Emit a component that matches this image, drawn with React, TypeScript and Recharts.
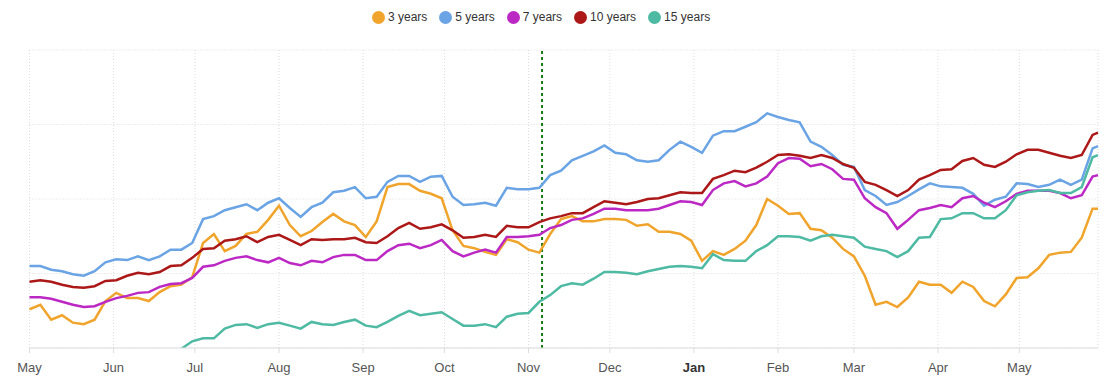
import React from 'react';
import { LineChart, Line, XAxis, YAxis, CartesianGrid, ReferenceLine } from 'recharts';

// sampling grid: days since 1 May, a point every 4 days, last point at the chart's end
const DAYS = Array.from({ length: 99 }, (_, i) => i * 4).concat(394);

const MONTH_DAYS = [0, 31, 61, 92, 123, 153, 184, 214, 245, 276, 304, 335, 365];
const MONTH_LABELS = ['May', 'Jun', 'Jul', 'Aug', 'Sep', 'Oct', 'Nov', 'Dec', 'Jan', 'Feb', 'Mar', 'Apr', 'May'];
const MARKER_DAY = 189;

const SERIES_NAMES = ['3 years', '5 years', '7 years', '10 years', '15 years'];
const SERIES_COLORS = ['#F0A42C', '#6AA4E4', '#BC28C4', '#AC1818', '#4FBAA3'];

const Y3 = [
  0.52, 0.58, 0.38, 0.44, 0.34, 0.32, 0.38, 0.63, 0.74, 0.67,
  0.67, 0.63, 0.75, 0.83, 0.85, 0.95, 1.41, 1.53, 1.30, 1.37,
  1.53, 1.56, 1.72, 1.91, 1.65, 1.50, 1.57, 1.69, 1.80, 1.70,
  1.65, 1.49, 1.70, 2.16, 2.20, 2.20, 2.11, 2.07, 2.01, 1.58,
  1.37, 1.34, 1.29, 1.25, 1.46, 1.42, 1.32, 1.28, 1.53, 1.73,
  1.77, 1.70, 1.70, 1.73, 1.73, 1.72, 1.64, 1.66, 1.56, 1.56,
  1.53, 1.44, 1.17, 1.30, 1.25, 1.33, 1.44, 1.65, 2.00, 1.91,
  1.80, 1.81, 1.60, 1.58, 1.48, 1.33, 1.23, 0.97, 0.58, 0.62,
  0.55, 0.68, 0.89, 0.85, 0.85, 0.74, 0.89, 0.82, 0.63, 0.56,
  0.72, 0.94, 0.95, 1.07, 1.25, 1.28, 1.29, 1.48, 1.87, 1.87,
];
const Y5 = [
  1.10, 1.10, 1.05, 1.03, 0.99, 0.97, 1.03, 1.15, 1.19, 1.18,
  1.23, 1.18, 1.23, 1.32, 1.32, 1.41, 1.73, 1.77, 1.85, 1.89,
  1.93, 1.85, 1.95, 2.01, 1.88, 1.76, 1.89, 1.95, 2.09, 2.11,
  2.16, 2.01, 2.03, 2.23, 2.31, 2.31, 2.23, 2.30, 2.31, 2.03,
  1.92, 1.93, 1.95, 1.91, 2.15, 2.13, 2.13, 2.15, 2.32, 2.38,
  2.52, 2.58, 2.64, 2.72, 2.62, 2.60, 2.52, 2.50, 2.52, 2.66,
  2.77, 2.70, 2.62, 2.85, 2.91, 2.91, 2.97, 3.03, 3.15, 3.10,
  3.06, 3.03, 2.77, 2.70, 2.59, 2.46, 2.43, 2.12, 2.04, 1.92,
  1.96, 2.04, 2.13, 2.21, 2.17, 2.16, 2.15, 2.07, 1.91, 1.99,
  2.03, 2.21, 2.20, 2.16, 2.19, 2.26, 2.19, 2.26, 2.68, 2.71,
];
const Y7 = [
  0.68, 0.68, 0.66, 0.62, 0.58, 0.55, 0.56, 0.62, 0.67, 0.70,
  0.74, 0.75, 0.82, 0.86, 0.87, 0.94, 1.09, 1.11, 1.17, 1.21,
  1.23, 1.18, 1.15, 1.21, 1.14, 1.11, 1.17, 1.15, 1.22, 1.25,
  1.25, 1.18, 1.18, 1.30, 1.38, 1.40, 1.34, 1.38, 1.45, 1.30,
  1.23, 1.28, 1.32, 1.28, 1.49, 1.49, 1.50, 1.52, 1.61, 1.65,
  1.72, 1.74, 1.80, 1.87, 1.87, 1.85, 1.85, 1.85, 1.87, 1.92,
  1.97, 1.96, 1.92, 2.12, 2.21, 2.24, 2.17, 2.21, 2.30, 2.48,
  2.55, 2.54, 2.44, 2.47, 2.40, 2.27, 2.26, 2.01, 1.89, 1.81,
  1.60, 1.72, 1.85, 1.88, 1.92, 1.89, 2.01, 2.04, 1.95, 1.89,
  1.97, 2.07, 2.11, 2.11, 2.11, 2.08, 2.01, 2.05, 2.30, 2.32,
];
const Y10 = [
  0.89, 0.91, 0.89, 0.85, 0.82, 0.81, 0.83, 0.90, 0.91, 0.97,
  1.01, 0.99, 1.02, 1.10, 1.11, 1.21, 1.33, 1.34, 1.44, 1.46,
  1.50, 1.42, 1.49, 1.52, 1.45, 1.38, 1.46, 1.45, 1.46, 1.46,
  1.48, 1.42, 1.41, 1.50, 1.61, 1.68, 1.60, 1.62, 1.66, 1.58,
  1.48, 1.49, 1.52, 1.49, 1.64, 1.62, 1.62, 1.69, 1.74, 1.77,
  1.81, 1.81, 1.89, 1.97, 1.95, 1.93, 1.96, 2.00, 2.01, 2.05,
  2.09, 2.08, 2.08, 2.27, 2.32, 2.38, 2.36, 2.42, 2.50, 2.59,
  2.60, 2.58, 2.55, 2.59, 2.55, 2.47, 2.42, 2.23, 2.19, 2.12,
  2.04, 2.12, 2.26, 2.32, 2.39, 2.40, 2.51, 2.55, 2.46, 2.43,
  2.50, 2.60, 2.66, 2.66, 2.62, 2.58, 2.55, 2.59, 2.86, 2.89,
];
const Y15 = [
  null, null, null, null, null, null, null, null, null, null,
  null, null, null, null, -0.01, 0.09, 0.13, 0.13, 0.26, 0.31,
  0.32, 0.27, 0.32, 0.34, 0.30, 0.26, 0.35, 0.32, 0.31, 0.35,
  0.38, 0.30, 0.28, 0.35, 0.43, 0.50, 0.44, 0.46, 0.48, 0.39,
  0.30, 0.30, 0.32, 0.28, 0.42, 0.46, 0.47, 0.62, 0.71, 0.83,
  0.87, 0.85, 0.93, 1.02, 1.02, 1.01, 0.99, 1.03, 1.06, 1.09,
  1.10, 1.09, 1.07, 1.26, 1.18, 1.17, 1.17, 1.30, 1.38, 1.50,
  1.50, 1.49, 1.44, 1.50, 1.52, 1.50, 1.48, 1.36, 1.33, 1.30,
  1.22, 1.30, 1.48, 1.49, 1.73, 1.74, 1.81, 1.81, 1.74, 1.74,
  1.85, 2.05, 2.09, 2.11, 2.12, 2.08, 2.08, 2.16, 2.56, 2.59,
];

const KEYS = ['y3', 'y5', 'y7', 'y10', 'y15'];
const data = DAYS.map((day, i) => ({
  day,
  y3: Y3[i],
  y5: Y5[i],
  y7: Y7[i],
  y10: Y10[i],
  y15: Y15[i],
}));

const FONT = 'Arial, "Liberation Sans", sans-serif';

const MonthTick = (props: any) => {
  const { x, y, payload } = props;
  const label = MONTH_LABELS[MONTH_DAYS.indexOf(payload.value)];
  const bold = label === 'Jan';
  return (
    <text x={x} y={y} dy={16.5} textAnchor="middle" fontSize={13} fontFamily={FONT}
      fill={bold ? '#333' : '#555'} fontWeight={bold ? 700 : 400}>
      {label}
    </text>
  );
};

export default function App() {
  return (
    <div style={{ position: 'absolute', left: 0, top: 0, width: 1119, height: 385, background: '#fff' }}>
      {/* legend */}
      <div style={{ position: 'absolute', left: 372, top: 10, display: 'flex', alignItems: 'center', fontFamily: FONT, fontSize: 12, color: '#333' }}>
        {SERIES_NAMES.map((name, i) => (
          <div key={name} style={{ display: 'flex', alignItems: 'center', marginRight: 12 }}>
            <span style={{ width: 13, height: 13, borderRadius: '50%', background: SERIES_COLORS[i], display: 'inline-block', marginRight: 3 }} />
            <span>{name}</span>
          </div>
        ))}
      </div>
      <LineChart width={1119} height={385} data={data} margin={{ top: 50, right: 21, bottom: 0, left: 29.5 }}>
        <CartesianGrid stroke="#dcdcdc" strokeDasharray="1 2" />
        <XAxis dataKey="day" type="number" domain={[0, 394]} ticks={MONTH_DAYS} interval={0}
          height={37} axisLine={{ stroke: '#ddd' }} tickLine={{ stroke: '#ddd' }} tickSize={5}
          tick={<MonthTick />} />
        <YAxis hide domain={[0, 4]} ticks={[0, 1, 2, 3, 4]} allowDataOverflow />
        <ReferenceLine x={MARKER_DAY} stroke="#167a16" strokeWidth={2} strokeDasharray="3 3" />
        {KEYS.map((k, i) => (
          <Line key={k} dataKey={k} name={SERIES_NAMES[i]} type="linear" stroke={SERIES_COLORS[i]}
            strokeWidth={2.5} dot={false} isAnimationActive={false} />
        ))}
      </LineChart>
    </div>
  );
}
